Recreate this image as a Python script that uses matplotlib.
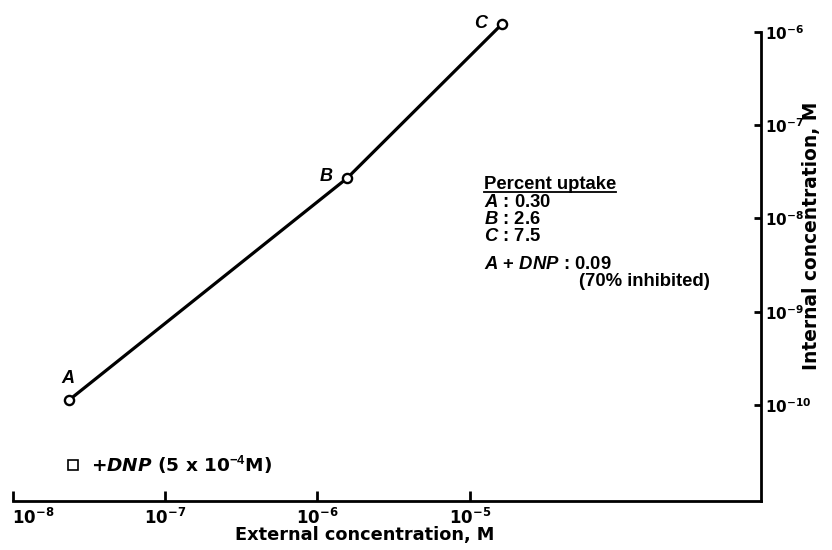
import matplotlib
matplotlib.use("Agg")
import matplotlib.pyplot as plt
from matplotlib.lines import Line2D

# ---------------- data ----------------
point_names = ["A", "B", "C"]
external_conc = [2.35e-8, 1.57e-6, 1.64e-5]      # M
internal_conc = [1.13e-10, 2.71e-8, 1.23e-6]     # M
dnp_external = [2.48e-8]
dnp_internal = [2.28e-11]
dnp_label = r"$\mathsf{+DNP}$ (5 x 10$^{-4}$M)"

x_ticks = [1e-8, 1e-7, 1e-6, 1e-5]
x_tick_labels = [r"$\mathbf{10^{-8}}$", r"$\mathbf{10^{-7}}$",
                 r"$\mathbf{10^{-6}}$", r"$\mathbf{10^{-5}}$"]
y_ticks = [1e-10, 1e-9, 1e-8, 1e-7, 1e-6]
y_tick_labels = [r"$\mathbf{10^{-10}}$", r"$\mathbf{10^{-9}}$", r"$\mathbf{10^{-8}}$",
                 r"$\mathbf{10^{-7}}$", r"$\mathbf{10^{-6}}$"]

uptake_title = "Percent uptake"
uptake_names = ["A", "B", "C"]
uptake_values = ["0.30", "2.6", "7.5"]
dnp_uptake = "0.09"
dnp_note = "(70% inhibited)"

x_label = "External concentration, M"
y_label = "Internal concentration, M"

# ---------------- style ----------------
plt.rcParams["mathtext.fontset"] = "dejavusans"
plt.rcParams["mathtext.rm"] = "Liberation Sans:bold"
plt.rcParams["mathtext.it"] = "Liberation Sans:italic:bold"
plt.rcParams["mathtext.bf"] = "Liberation Sans:bold"
plt.rcParams["mathtext.sf"] = "DejaVu Sans:oblique:bold"

W, H = 832, 550
fig = plt.figure(figsize=(W / 100, H / 100), dpi=100)

def px(x, y):
    return (x / W, 1 - y / H)

ax_left, ax_right, ax_top, ax_bottom = 12.5, 761, 32, 501
ax = fig.add_axes([ax_left / W, 1 - ax_bottom / H,
                   (ax_right - ax_left) / W, (ax_bottom - ax_top) / H])
ax.set_xscale("log")
ax.set_yscale("log")
ax.set_xlim(1e-8, 10 ** (-8 + (ax_right - ax_left) / 152.4))
ax.set_ylim(10 ** (-10 - (ax_bottom - 405) / 93.25), 1e-6)

for s in ["top", "left"]:
    ax.spines[s].set_visible(False)
for s in ["bottom", "right"]:
    ax.spines[s].set_linewidth(2.0)

ax.yaxis.tick_right()
ax.set_xticks(x_ticks)
ax.set_xticklabels(x_tick_labels)
ax.set_yticks(y_ticks)
ax.set_yticklabels(y_tick_labels)
ax.minorticks_off()
ax.tick_params(axis="x", direction="in", length=7.5, width=2.0, labelsize=12, pad=5)
ax.tick_params(axis="y", direction="in", length=5, width=2.0, labelsize=11, pad=3,
               right=True, left=False, labelright=True, labelleft=False)
first = ax.get_xticklabels()[0]
first.set_horizontalalignment("left")

ax.set_xlabel(x_label, fontsize=12.8, fontweight="bold", family="DejaVu Sans")
ax.xaxis.label.set_va("baseline")
ax.xaxis.set_label_coords((365 - ax_left) / (ax_right - ax_left),
                          -(540 - ax_bottom) / (ax_bottom - ax_top))
ax.yaxis.set_label_position("right")
ax.set_ylabel(y_label, fontsize=13.4, fontweight="bold", family="DejaVu Sans",
              rotation=90, va="center", ha="center")
ax.yaxis.set_label_coords((812 - ax_left) / (ax_right - ax_left),
                          (ax_bottom - 236) / (ax_bottom - ax_top))

# ---------------- marks ----------------
ax.plot(external_conc, internal_conc, "-", color="black", lw=2.3,
        marker="o", ms=6.6, mfc="white", mec="black", mew=1.7,
        clip_on=False, zorder=3)
ax.plot(dnp_external, dnp_internal, "s", ms=7.2, mfc="white", mec="black",
        mew=1.2, clip_on=False, zorder=3)

label_font = dict(family="Liberation Sans", fontweight="bold", fontstyle="italic",
                  fontsize=13)
offsets = [(-1, 22), (-21, 2), (-22, 0)]
for name, xv, yv, off in zip(point_names, external_conc, internal_conc, offsets):
    ax.annotate(name, xy=(xv, yv), xytext=off, textcoords="offset pixels",
                ha="center", va="center", annotation_clip=False, **label_font)

ax.annotate(dnp_label, xy=(dnp_external[0], dnp_internal[0]), xytext=(18, -7),
            textcoords="offset pixels", ha="left", va="baseline",
            family="DejaVu Sans", fontweight="bold", fontsize=13.3,
            math_fontfamily="custom", annotation_clip=False)

# ---------------- percent uptake block ----------------
block_font = dict(family="Liberation Sans", fontweight="bold", fontsize=13.3,
                  math_fontfamily="custom", ha="left", va="baseline")
hx = 484
title = fig.text(*px(hx, 189), uptake_title, **block_font)
baselines = [207, 224, 241]
for name, val, yb in zip(uptake_names, uptake_values, baselines):
    fig.text(*px(hx, yb), r"$\mathit{%s}$ : %s" % (name, val), **block_font)
fig.text(*px(hx, 269), r"$\mathit{A}$ $\mathit{+}$ $\mathit{DNP}$ : %s" % dnp_uptake,
         **block_font)
fig.text(*px(579, 286), dnp_note, **block_font)

fig.canvas.draw()
bb = title.get_window_extent(fig.canvas.get_renderer())
uy = 1 - 192 / H
fig.add_artist(Line2D([bb.x0 / W, bb.x1 / W], [uy, uy], transform=fig.transFigure,
                      color="black", lw=1.3))

fig.savefig("out.png", dpi=100)
